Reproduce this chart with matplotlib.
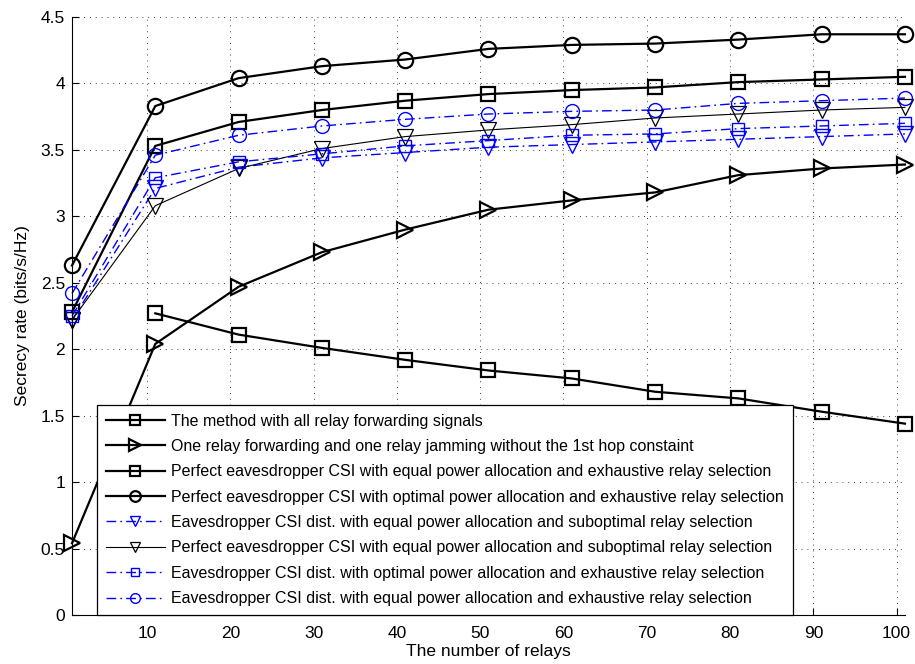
import matplotlib
matplotlib.use('Agg')
import matplotlib.pyplot as plt
import numpy as np

plt.rcParams['font.family'] = ['Liberation Sans', 'DejaVu Sans']

relays = [1, 11, 21, 31, 41, 51, 61, 71, 81, 91, 101]

all_forward = [2.27, 2.11, 2.01, 1.92, 1.84, 1.78, 1.68, 1.63, 1.53, 1.44]
one_fwd_one_jam = [0.54, 2.04, 2.47, 2.73, 2.90, 3.05, 3.12, 3.18, 3.31, 3.36, 3.39]
perf_equal_exh = [2.28, 3.53, 3.71, 3.80, 3.87, 3.92, 3.95, 3.97, 4.01, 4.03, 4.05]
perf_opt_exh = [2.63, 3.83, 4.04, 4.13, 4.18, 4.26, 4.29, 4.30, 4.33, 4.37, 4.37]
dist_equal_sub = [2.22, 3.21, 3.37, 3.44, 3.48, 3.52, 3.54, 3.56, 3.58, 3.60, 3.62]
perf_equal_sub = [2.22, 3.08, 3.36, 3.51, 3.60, 3.65, 3.69, 3.74, 3.77, 3.80, 3.82]
dist_opt_exh = [2.25, 3.29, 3.41, 3.47, 3.53, 3.57, 3.61, 3.62, 3.66, 3.68, 3.70]
dist_equal_exh = [2.42, 3.46, 3.61, 3.68, 3.73, 3.77, 3.79, 3.80, 3.85, 3.87, 3.89]

labels = [
    'The method with all relay forwarding signals',
    'One relay forwarding and one relay jamming without the 1st hop constaint',
    'Perfect eavesdropper CSI with equal power allocation and exhaustive relay selection',
    'Perfect eavesdropper CSI with optimal power allocation and exhaustive relay selection',
    'Eavesdropper CSI dist. with equal power allocation and suboptimal relay selection',
    'Perfect eavesdropper CSI with equal power allocation and suboptimal relay selection',
    'Eavesdropper CSI dist. with optimal power allocation and exhaustive relay selection',
    'Eavesdropper CSI dist. with equal power allocation and exhaustive relay selection',
]

fig = plt.figure(figsize=(9.15, 6.64), dpi=100)
ax = fig.add_axes([0.0787, 0.0738, 0.9103, 0.9006])

dashdot = (0, (7, 3, 1.2, 3))
thick = dict(color='k', lw=1.6, mfc='none', mew=1.6, clip_on=False)
blue = dict(color='b', lw=1.0, mfc='none', mew=1.0, clip_on=False, linestyle=dashdot)

ax.plot(relays[1:], all_forward, marker='s', ms=10, label=labels[0], **thick)
ax.plot(relays, one_fwd_one_jam, marker='>', ms=12, label=labels[1], **thick)
ax.plot(relays, perf_equal_exh, marker='s', ms=10, label=labels[2], **thick)
ax.plot(relays, perf_opt_exh, marker='o', ms=11, label=labels[3], **thick)
ax.plot(relays, dist_equal_sub, marker='v', ms=11, label=labels[4], **blue)
ax.plot(relays, perf_equal_sub, marker='v', ms=11, color='k', lw=0.8, mfc='none',
        mew=0.9, clip_on=False, label=labels[5])
ax.plot(relays, dist_opt_exh, marker='s', ms=9, label=labels[6], **blue)
ax.plot(relays, dist_equal_exh, marker='o', ms=10, label=labels[7], **blue)

ax.set_xlim(1, 101)
ax.set_ylim(0, 4.5)
ax.set_xticks(np.arange(10, 101, 10))
ax.set_yticks(np.arange(0, 4.51, 0.5))
ax.set_yticklabels(['0', '0.5', '1', '1.5', '2', '2.5', '3', '3.5', '4', '4.5'])
ax.tick_params(direction='in', length=5, labelsize=12.5, width=0.8)
ax.tick_params(axis='x', pad=8)
ax.tick_params(axis='y', pad=5)
ax.grid(True, color='k', linestyle=(0, (1, 6)), linewidth=0.6)
ax.spines['top'].set_visible(False)
ax.spines['right'].set_visible(False)
ax.set_xlabel('The number of relays', fontsize=12.5, labelpad=2)
ax.set_ylabel('Secrecy rate (bits/s/Hz)', fontsize=12.5, labelpad=8)

leg = ax.legend(loc='lower left', bbox_to_anchor=(0.03, 0.0), fontsize=11.5,
                handlelength=3.7, handletextpad=0.4, borderaxespad=0,
                labelspacing=0.65, fancybox=False, framealpha=1,
                edgecolor='k', borderpad=0.55, markerscale=0.7)
leg.get_frame().set_linewidth(0.9)
leg.set_zorder(5)

fig.savefig('out.png', dpi=100)
